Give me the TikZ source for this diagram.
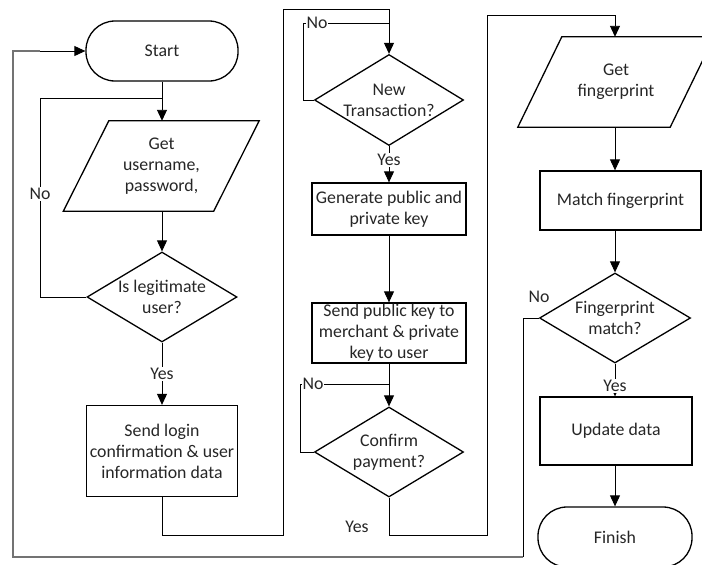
\documentclass[tikz,border=0pt]{standalone}
\usepackage{fontspec}
\setmainfont{Carlito}
\usetikzlibrary{shapes.geometric,arrows.meta}
\begin{document}
\begin{tikzpicture}[x=1pt,y=-1pt,
  every node/.style={font=\fontsize{17.8}{21}\selectfont, text=black!85, align=center},
  term/.style={draw, line width=1.3pt, rounded corners=29pt, minimum width=152pt, minimum height=60pt, inner sep=0pt},
  procbox/.style={draw, line width=1.3pt, inner sep=0pt},
  dia/.style={draw, diamond, line width=1.3pt, inner sep=0pt},
  ioshape/.style={inner sep=0pt, minimum height=90pt},
  ioline/.style={line width=1.3pt, line join=miter},
  txt/.style={inner sep=0pt},
  conn/.style={line width=0.9pt, black},
  arr/.style={conn, -{Triangle[width=10pt,length=11pt]}},
  lab/.style={fill=white, inner sep=1.5pt},
  outer/.style={line width=1.5pt, black!55}
]
\useasboundingbox (0,0) rectangle (702,565);

% column 1
\node[term] (start) at (162,51) {Start};
\node[ioshape, minimum width=150pt] (user) at (161.5,166) {Get\\username,\\password,};
\draw[ioline] ([xshift=22.5pt]user.north west) -- ([xshift=22.5pt]user.north east)
  -- ([xshift=-23pt]user.south east) -- ([xshift=-23pt]user.south west) -- cycle;
\node[dia, minimum width=150pt, minimum height=90pt] (legit) at (162,297) {};
\node[txt] at (legit) {Is legitimate\\user?};
\node[procbox, minimum width=151pt, minimum height=91pt] (login) at (162,451) {Send login\\confirmation \& user\\information data};

% column 2
\node[dia, minimum width=149pt, minimum height=91pt] (newt) at (389,100) {};
\node[txt] at (newt) {New\\Transaction?};
\node[procbox, minimum width=154pt, minimum height=52pt] (gen) at (389,209) {Generate public and\\private key};
\node[procbox, minimum width=154pt, minimum height=60pt] (send) at (389,333) {Send public key to\\merchant \& private\\key to user};
\node[dia, minimum width=149pt, minimum height=90pt] (conf) at (389,452) {};
\node[txt] at (conf) {Confirm\\payment?};

% column 3
\node[ioshape, minimum width=152pt] (fp) at (616,82) {Get\\fingerprint};
\draw[ioline] ([xshift=22pt]fp.north west) -- ([xshift=22pt]fp.north east)
  -- ([xshift=-22pt]fp.south east) -- ([xshift=-22pt]fp.south west) -- cycle;
\node[procbox, minimum width=161pt, minimum height=59pt] (match) at (620.5,200.5) {Match fingerprint};
\node[dia, minimum width=151pt, minimum height=90pt] (fmatch) at (615,318) {};
\node[txt] at (fmatch) {Fingerprint\\match?};
\node[procbox, minimum width=152pt, minimum height=68pt] (update) at (616,431) {Update data};
\node[term, minimum width=154pt] (finish) at (615,537) {Finish};

% helper coordinates
\coordinate (c1) at (40,98);
\coordinate (c2) at (283,535);
\coordinate (c3) at (389,9);
\coordinate (c4) at (303,23);
\coordinate (c5) at (300,384);
\coordinate (c6) at (487,535);
\coordinate (c7) at (615,15);
\coordinate (c8) at (523,557);
\coordinate (c9) at (13,557);

% connectors column 1
\draw[arr] (start.south) -- (user.north -| start.south);
\draw[conn] (legit.west) -| (c1) -- (c1 -| start.south);
\node[lab] at (40,194) {No};
\draw[arr] (user.south -| legit.north) -- (legit.north);
\draw[arr] (legit.south) -- (login.north);
\node[lab] at (162,374) {Yes};
\draw[arr] (login.south) |- (c2) |- (c3) -- (newt.north);

% connectors column 2
\draw[conn] (newt.west) -| (c4) -- (c4 -| newt.north);
\node[lab, inner sep=1pt] at (317,23) {No};
\draw[arr] (newt.south) -- (gen.north);
\node[lab] at (389,160) {Yes};
\draw[arr] (gen.south) -- (send.north);
\draw[arr] (send.south) -- (conf.north);
\draw[conn] (conf.west) -| (c5) -- (c5 -| conf.north);
\node[lab, inner sep=1pt] at (313,384) {No};
\draw[arr] (conf.south) |- (c6) |- (c7) -- (c7 |- fp.north);
\node[txt] at (357,527) {Yes};

% connectors column 3
\draw[arr] (c7 |- fp.south) -- (c7 |- match.north);
\draw[arr] (c7 |- match.south) -- (fmatch.north);
\draw[arr] (fmatch.south) -- (fmatch.south |- update.north);
\node[lab] at (615,386) {Yes};
\draw[arr] (fmatch.south |- update.south) -- (finish.north);
\node[txt] at (539,297) {No};
\draw[conn] (fmatch.west) -| (c8);
\draw[outer] (c8) -- (c9) |- ([yshift=0pt]start.west -| 40,0);
\draw[arr] ([xshift=-0.1pt]start.west -| 40,0) -- (start.west);
\end{tikzpicture}
\end{document}
